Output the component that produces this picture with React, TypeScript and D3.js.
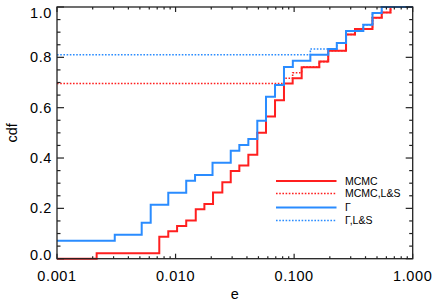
import React from 'react';
import * as d3 from 'd3';

// step positions (e) and cdf levels
const mcmcStart = 0.0;
const mcmcE = [0.00216, 0.00729, 0.00868, 0.0103, 0.0123, 0.0148, 0.0175, 0.0207, 0.0248, 0.0292, 0.0345, 0.0411, 0.0489, 0.0579, 0.069, 0.0821, 0.0972, 0.1158, 0.163, 0.194, 0.274, 0.326, 0.458, 0.548, 0.65];
const mcmcCdf = [0.022, 0.087, 0.109, 0.13, 0.152, 0.196, 0.217, 0.263, 0.304, 0.348, 0.37, 0.413, 0.5, 0.565, 0.63, 0.696, 0.717, 0.761, 0.783, 0.826, 0.891, 0.913, 0.957, 0.978, 1.0];

const mcmcLSStart = 0.696;
const mcmcLSE = [0.0821, 0.0972, 0.1158, 0.163, 0.194, 0.274, 0.326, 0.458, 0.548, 0.65];
const mcmcLSCdf = [0.717, 0.739, 0.761, 0.783, 0.826, 0.891, 0.913, 0.957, 0.978, 1.0];

const gammaStart = 0.0714;
const gammaE = [0.00307, 0.00518, 0.00617, 0.00868, 0.0123, 0.0146, 0.0205, 0.0292, 0.0345, 0.0411, 0.0489, 0.0579, 0.069, 0.0821, 0.0975, 0.137, 0.194, 0.229, 0.274, 0.383, 0.458, 0.548];
const gammaCdf = [0.095, 0.143, 0.214, 0.262, 0.31, 0.333, 0.381, 0.429, 0.452, 0.476, 0.548, 0.643, 0.69, 0.762, 0.786, 0.81, 0.833, 0.857, 0.905, 0.929, 0.976, 1.0];

const gammaLSStart = 0.81;
const gammaLSE = [0.137, 0.229, 0.274, 0.383, 0.458, 0.548];
const gammaLSCdf = [0.833, 0.857, 0.905, 0.929, 0.976, 1.0];

const xTicks = [0.001, 0.01, 0.1, 1.0];
const yTicks = [0.0, 0.2, 0.4, 0.6, 0.8, 1.0];

const legendLabels = ['MCMC', 'MCMC,L&S', 'Γ', 'Γ,L&S'];

const RED = '#ff1f1f';
const BLUE = '#2a8cff';
const AXIS = '#222';
const FONT = '"Liberation Sans", Arial, sans-serif';

const W = 436;
const H = 305;
const left = 57, right = 412.7, top = 7, bottom = 258.7;

const x = d3.scaleLog().domain([0.001, 1]).range([left, right]);
const y = d3.scaleLinear().domain([0, 1]).range([bottom, top]);

const stepLine = d3
  .line<[number, number]>()
  .x(d => x(d[0]))
  .y(d => y(d[1]))
  .curve(d3.curveStepAfter);

function pts(start: number, es: number[], cs: number[]): [number, number][] {
  const p: [number, number][] = [[0.001, start]];
  es.forEach((e, i) => p.push([e, cs[i]]));
  p.push([1, cs[cs.length - 1]]);
  return p;
}

const series = [
  { p: pts(mcmcLSStart, mcmcLSE, mcmcLSCdf), color: RED, dotted: true },
  { p: pts(gammaLSStart, gammaLSE, gammaLSCdf), color: BLUE, dotted: true },
  { p: pts(mcmcStart, mcmcE, mcmcCdf), color: RED, dotted: false },
  { p: pts(gammaStart, gammaE, gammaCdf), color: BLUE, dotted: false },
];

const legendStyle = [
  { color: RED, dotted: false },
  { color: RED, dotted: true },
  { color: BLUE, dotted: false },
  { color: BLUE, dotted: true },
];
const legendY = [181, 193.5, 207.5, 220.5];

export default function App() {
  const minorX: number[] = [];
  for (let dec = 0.001; dec < 1; dec *= 10) {
    for (let k = 2; k <= 9; k++) minorX.push(dec * k);
  }
  const minorY = d3.range(0.05, 1, 0.1);
  const fx = d3.format('.3f');
  const fy = d3.format('.1f');

  const xMajor = 5, yMajor = 7;

  return (
    <svg width={W} height={H} style={{ position: 'absolute', left: 0, top: 0, background: '#fff' }}>
      <g fill="none" strokeLinejoin="miter">
        {series.map((s, i) => (
          <path
            key={i}
            d={stepLine(s.p) || ''}
            stroke={s.color}
            strokeWidth={s.dotted ? 1.6 : 2}
            strokeDasharray={s.dotted ? '1.6,1.6' : undefined}
          />
        ))}
      </g>

      {/* frame */}
      <rect x={left} y={top} width={right - left} height={bottom - top} fill="none" stroke={AXIS} strokeWidth={1.3} />

      {/* x ticks, bottom and top */}
      <g stroke={AXIS} strokeWidth={1.2}>
        {xTicks.map(t => (
          <g key={'xm' + t}>
            <line x1={x(t)} x2={x(t)} y1={bottom} y2={bottom - xMajor} />
            <line x1={x(t)} x2={x(t)} y1={top} y2={top + xMajor} />
          </g>
        ))}
        {minorX.map(t => (
          <g key={'xn' + t}>
            <line x1={x(t)} x2={x(t)} y1={bottom} y2={bottom - xMajor / 2} />
            <line x1={x(t)} x2={x(t)} y1={top} y2={top + xMajor / 2} />
          </g>
        ))}
        {yTicks.map(t => (
          <g key={'ym' + t}>
            <line x1={left} x2={left + yMajor} y1={y(t)} y2={y(t)} />
            <line x1={right} x2={right - yMajor} y1={y(t)} y2={y(t)} />
          </g>
        ))}
        {d3.range(0.1, 1, 0.2).concat(minorY).map(t => (
          <g key={'yn' + t}>
            <line x1={left} x2={left + yMajor / 2} y1={y(t)} y2={y(t)} />
            <line x1={right} x2={right - yMajor / 2} y1={y(t)} y2={y(t)} />
          </g>
        ))}
      </g>

      {/* tick labels */}
      <g fontFamily={FONT} fontSize={14.5} fill="#000" letterSpacing={0.6}>
        {xTicks.map(t => (
          <text key={'xl' + t} x={x(t)} y={281} textAnchor="middle">{fx(t)}</text>
        ))}
        {yTicks.map(t => {
          const yy = Math.min(Math.max(y(t), top + 6), bottom - 4);
          return (
            <text key={'yl' + t} x={52} y={yy} dy="0.35em" textAnchor="end">{fy(t)}</text>
          );
        })}
      </g>

      {/* axis titles */}
      <text x={(left + right) / 2} y={299} textAnchor="middle" fontFamily={FONT} fontSize={14.5}>e</text>
      <text transform={`translate(17,${(top + bottom) / 2}) rotate(-90)`} textAnchor="middle" fontFamily={FONT} fontSize={14.5}>cdf</text>

      {/* legend */}
      <g fontFamily={FONT} fontSize={10.5}>
        {legendLabels.map((lab, i) => (
          <g key={lab}>
            <line
              x1={276} x2={336.5} y1={legendY[i]} y2={legendY[i]}
              stroke={legendStyle[i].color}
              strokeWidth={legendStyle[i].dotted ? 1.6 : 2}
              strokeDasharray={legendStyle[i].dotted ? '1.6,1.6' : undefined}
            />
            <text x={345} y={legendY[i]} dy="0.36em">{lab}</text>
          </g>
        ))}
      </g>
    </svg>
  );
}
